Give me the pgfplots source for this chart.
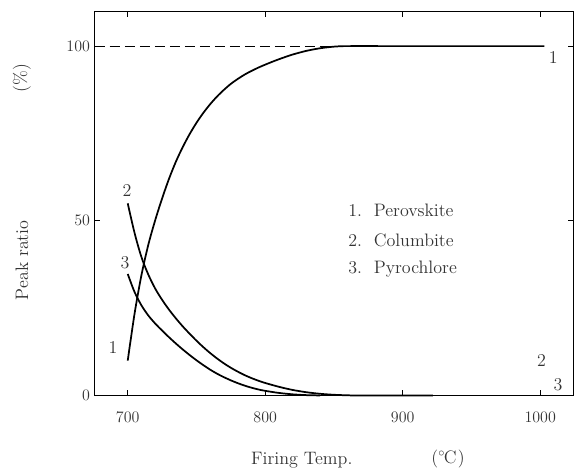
\documentclass[border=0pt]{standalone}
\usepackage{pgfplots}
\pgfplotsset{compat=1.18}

\begin{document}
\begin{tikzpicture}[every node/.style={font=\fontsize{13.5}{16}\selectfont, text=black!80}]
\begin{axis}[
  scale only axis,
  width=358.5pt, height=288pt,
  xmin=676, xmax=1024,
  ymin=0, ymax=110,
  xtick={700,800,900,1000},
  ytick={0,50,100},
  /pgf/number format/set thousands separator={},
  tick align=inside,
  major tick length=4pt,
  tick style={black, line width=0.8pt},
  axis line style={line width=1pt},
  xticklabel style={yshift=-9pt},
  ticklabel style={font=\fontsize{12.5}{15}\selectfont, text=black!80},
  clip=false,
]
% dashed 100 % reference
\addplot[black, line width=0.9pt, dash pattern=on 7.5pt off 3.75pt] coordinates {(676,100) (855,100)};
% 1. Perovskite
\addplot[black, line width=1.3pt, smooth] coordinates {
  (700,10) (705,23.5) (710,34.5) (715,43.2) (720,50.2) (725,56.4) (730,62)
  (735,66.9) (740,71.1) (745,74.8) (750,78.05) (755,80.9) (760,83.4) (765,85.6)
  (770,87.5) (775,89.2) (780,90.6) (785,91.85) (790,92.9) (795,93.85) (800,94.7)
  (805,95.5) (810,96.25) (815,96.95) (820,97.6) (825,98.15) (830,98.65)
  (835,99.05) (840,99.4) (845,99.65) (850,99.85) (855,99.97) (860,100)
  (900,100) (1003,100)};
% 2. Columbite
\addplot[black, line width=1.3pt, smooth] coordinates {
  (700,55) (705,46.5) (710,39.6) (715,34.6) (720,30.6) (725,27.4) (730,24.6)
  (735,22.1) (740,19.8) (745,17.7) (750,15.7) (755,13.85) (760,12.15)
  (765,10.6) (770,9.2) (775,7.95) (780,6.85) (785,5.85) (790,5.0) (795,4.25)
  (800,3.6) (810,2.5) (820,1.6) (830,0.95) (840,0.5) (850,0.22) (860,0.07)
  (870,0.02) (922,0.02)};
% 3. Pyrochlore
\addplot[black, line width=1.3pt, smooth] coordinates {
  (700,34.8) (705,29.6) (710,25.8) (715,22.9) (720,20.6) (725,18.6) (730,16.7)
  (735,14.9) (740,13.2) (745,11.6) (750,10.1) (755,8.7) (760,7.4) (765,6.25)
  (770,5.25) (775,4.35) (780,3.55) (785,2.85) (790,2.25) (795,1.75) (800,1.35)
  (810,0.75) (820,0.35) (830,0.12) (840,0.03)};

% curve numbers
\node at (axis cs:689.3,13.8) {1};
\node at (axis cs:699.5,58.7) {2};
\node at (axis cs:698,38.1) {3};
\node at (axis cs:1009.5,96.6) {1};
\node at (axis cs:1000.9,10) {2};
\node at (axis cs:1013,3) {3};

% key
\node[anchor=west] at (axis cs:857,53) {1.\ \ Perovskite};
\node[anchor=west] at (axis cs:857,44.4) {2.\ \ Columbite};
\node[anchor=west] at (axis cs:857,36.2) {3.\ \ Pyrochlore};

% axis titles
\node[rotate=90] at (axis cs:623,90.8) {(\%)};
\node[rotate=90] at (axis cs:623,38.7) {Peak ratio};
\node at (axis cs:826.6,-18.6) {Firing Temp.};
\node at (axis cs:933,-18.2) {($^{\circ}$\kern-1ptC\kern1pt)};

\coordinate (bl) at (axis cs:607.1,-21.5);
\coordinate (tr) at (axis cs:1027.5,113.2);
\end{axis}
\pgfresetboundingbox
\path[use as bounding box] (bl) rectangle (tr);
\end{tikzpicture}
\end{document}
